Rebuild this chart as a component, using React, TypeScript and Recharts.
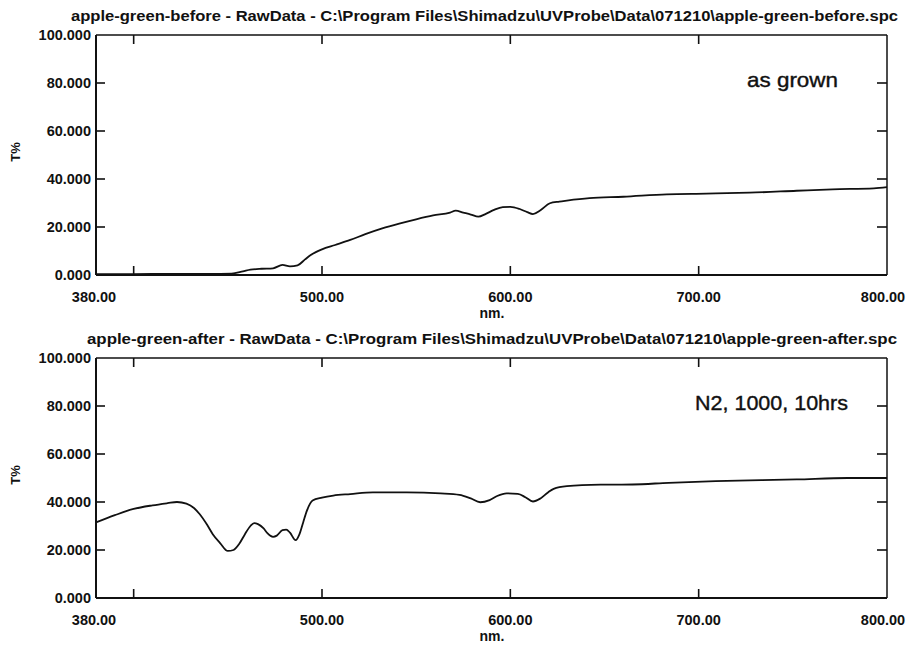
import { LineChart, Line, XAxis, YAxis } from 'recharts';

// spectrum
const beforeNm = [380, 400, 420, 440, 452, 458, 462, 468, 474, 479, 483, 487, 491, 494, 500, 507, 515, 523, 532, 541, 550, 559, 568, 571, 575, 579, 583, 587, 591, 596, 600, 605, 609, 612, 616, 621, 626, 630, 642, 660, 683, 704, 727, 752, 771, 793, 800];
const beforeT = [0.4, 0.4, 0.5, 0.5, 0.6, 1.5, 2.2, 2.6, 2.8, 4.2, 3.6, 4.0, 6.5, 8.3, 10.7, 12.5, 14.6, 17.0, 19.4, 21.4, 23.2, 24.8, 26.0, 26.8, 26.0, 25.2, 24.3, 25.5, 27.0, 28.3, 28.4, 27.5, 26.2, 25.4, 27.0, 29.9, 30.6, 31.0, 32.0, 32.6, 33.6, 33.9, 34.3, 35.1, 35.7, 36.1, 36.6];

const afterNm = [380, 390, 400, 410, 418, 423, 428, 432, 435, 439, 442, 446, 450, 453, 456, 459, 462, 464, 466, 469, 471, 474, 476, 479, 481, 483, 486, 488, 490, 492, 495, 500, 506, 515, 527, 545, 563, 573, 579, 584, 589, 593, 598, 604, 608, 612, 616, 620, 623, 630, 648, 665, 684, 709, 752, 779, 800];
const afterT = [31.5, 34.5, 37.1, 38.6, 39.5, 40.0, 39.3, 37.5, 35.0, 30.5, 26.6, 22.8, 19.6, 20.0, 22.5, 26.5, 30.0, 31.2, 30.8, 29.0, 27.0, 25.5, 26.0, 28.3, 28.5, 27.2, 24.1, 26.5, 31.5, 36.4, 40.6, 41.8, 42.7, 43.3, 44.0, 44.0, 43.6, 43.0, 41.5, 39.9, 40.8, 42.5, 43.6, 43.4, 42.0, 40.2, 41.5, 44.0, 45.5, 46.6, 47.2, 47.3, 48.0, 48.7, 49.4, 50.0, 50.0];

const xTicks = [380, 400, 500, 600, 700, 800];
const xLabelTicks = [380, 500, 600, 700, 800];
const xMarkTicks = [400, 500, 600, 700];
const yTicks = [0, 20, 40, 60, 80, 100];
const yMarkTicks = [20, 40, 60, 80];

const FONT = '"Liberation Sans", Arial, sans-serif';
const INK = '#111';
const W = 913;
const MARGIN = { top: 34, right: 25, bottom: 15, left: 36 };
const PLOT_RIGHT = W - MARGIN.right - 1; // right frame edge

// each tick draws its own inward mark and label
const BottomTick = (p: any) => {
  const v = Number(p.payload.value);
  const x = Number(p.x);
  const y = Number(p.y);
  return (
    <g>
      {xMarkTicks.indexOf(v) >= 0 ? <path d={`M${x},${y}v-9`} stroke={INK} strokeWidth={1.6} fill="none" /> : null}
      {xLabelTicks.indexOf(v) >= 0 ? (
        <text x={v === 380 ? x - 2 : v === 800 ? x - 4 : x} y={y + 27} textAnchor="middle"
          fontFamily={FONT} fontWeight="bold" fontSize={14.5} fill={INK}>
          {v.toFixed(2)}
        </text>
      ) : null}
    </g>
  );
};

const TopTick = (p: any) => {
  const v = Number(p.payload.value);
  return <g>{xMarkTicks.indexOf(v) >= 0 ? <path d={`M${Number(p.x)},${Number(p.y)}v9`} stroke={INK} strokeWidth={1.6} fill="none" /> : null}</g>;
};

// left labels + inward marks on both side frames
const LeftTick = (p: any) => {
  const v = Number(p.payload.value);
  const x = Number(p.x);
  const y = Number(p.y);
  const mark = yMarkTicks.indexOf(v) >= 0;
  return (
    <g>
      {mark ? <path d={`M${x},${y}h9`} stroke={INK} strokeWidth={1.6} fill="none" /> : null}
      {mark ? <path d={`M${PLOT_RIGHT},${y}h-10`} stroke={INK} strokeWidth={1.6} fill="none" /> : null}
      <text x={x - 5} y={y + 5} textAnchor="end" fontFamily={FONT} fontWeight="bold" fontSize={14.5} fill={INK}>
        {v.toFixed(3)}
      </text>
    </g>
  );
};

function Panel({ top, nm, t, title, titleX, titleW, note, noteX, noteW }: any) {
  const data = nm.map((x: number, i: number) => ({ nm: x, t: t[i] }));
  return (
    <div style={{ position: 'absolute', left: 0, top, width: W, height: 320 }}>
      <LineChart width={W} height={320} data={data} margin={MARGIN}>
        <XAxis dataKey="nm" type="number" domain={[380, 800]} ticks={xTicks} interval={0} height={30}
          tickSize={0} tickMargin={0} tick={<BottomTick />} tickLine={false} axisLine={{ stroke: INK, strokeWidth: 2 }} />
        <XAxis xAxisId="top" orientation="top" dataKey="nm" type="number" domain={[380, 800]} ticks={xTicks} interval={0} height={1}
          tickSize={0} tickMargin={0} tick={<TopTick />} tickLine={false} axisLine={{ stroke: INK, strokeWidth: 1.5 }} />
        <YAxis type="number" domain={[0, 100]} ticks={yTicks} interval={0} width={60}
          tickSize={0} tickMargin={0} tick={<LeftTick />} tickLine={false} axisLine={{ stroke: INK, strokeWidth: 2 }} />
        <YAxis yAxisId="right" orientation="right" type="number" domain={[0, 100]} width={1}
          tick={false} tickLine={false} axisLine={{ stroke: INK, strokeWidth: 1.5 }} />
        <Line dataKey="t" type="monotone" stroke={INK} strokeWidth={1.8} dot={false} isAnimationActive={false} />
      </LineChart>
      <svg width={W} height={320} style={{ position: 'absolute', left: 0, top: 0, pointerEvents: 'none' }}>
        <text x={titleX} y={21} textLength={titleW} lengthAdjust="spacingAndGlyphs" fontFamily={FONT} fontWeight="bold" fontSize={14} fill={INK}>
          {title}
        </text>
        <text x={noteX} y={87} textLength={noteW} lengthAdjust="spacingAndGlyphs" fontFamily={FONT} fontSize={21} fill={INK} stroke={INK} strokeWidth={0.4}>
          {note}
        </text>
        <text x={492} y={318} textAnchor="middle" fontFamily={FONT} fontWeight="bold" fontSize={14} fill={INK}>nm.</text>
        <text x={20} y={152} transform="rotate(-90 20 152)" textAnchor="middle" fontFamily={FONT} fontWeight="bold" fontSize={13} fill={INK}>T%</text>
      </svg>
    </div>
  );
}

export default function App() {
  return (
    <div style={{ position: 'absolute', left: 0, top: 0, width: W, height: 647, background: '#fff' }}>
      <Panel top={0} nm={beforeNm} t={beforeT}
        title={'apple-green-before - RawData - C:\\Program Files\\Shimadzu\\UVProbe\\Data\\071210\\apple-green-before.spc'}
        titleX={71} titleW={827} note="as grown" noteX={747} noteW={91} />
      <Panel top={323} nm={afterNm} t={afterT}
        title={'apple-green-after - RawData - C:\\Program Files\\Shimadzu\\UVProbe\\Data\\071210\\apple-green-after.spc'}
        titleX={87} titleW={810} note="N2, 1000, 10hrs" noteX={695} noteW={153} />
    </div>
  );
}
